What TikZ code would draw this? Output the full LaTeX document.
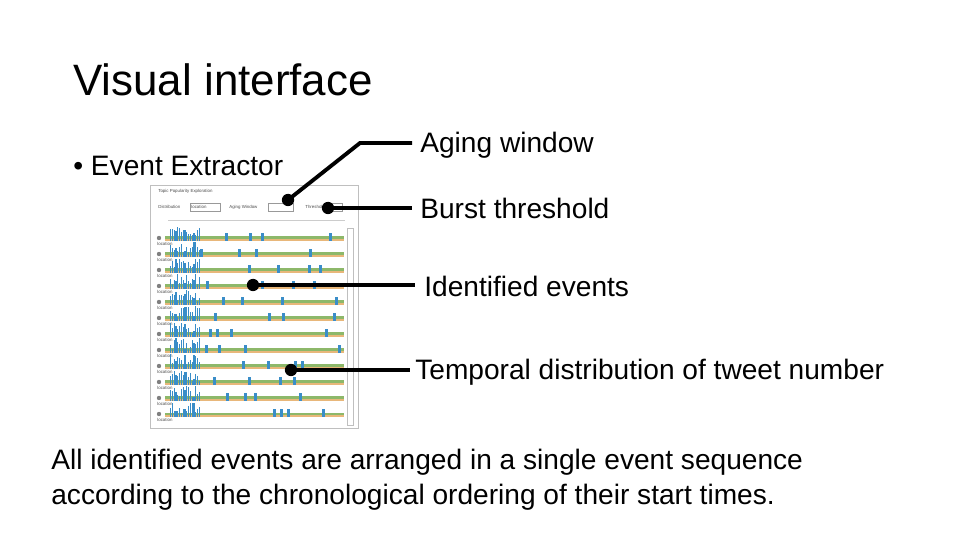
\documentclass[tikz,border=0pt]{standalone}
\usepackage{fontspec}
\setmainfont{Liberation Sans}
\definecolor{barblue}{HTML}{3A8DC8}
\definecolor{bargreen}{HTML}{8DB86A}
\definecolor{barorange}{HTML}{E8B77A}
\begin{document}
\begin{tikzpicture}[x=0.02cm,y=-0.02cm,
  lbl/.style={anchor=west,inner sep=0pt,font=\fontsize{16}{19}\selectfont},
  lead/.style={line width=2.2pt},
  dotb/.style={circle,fill=black,inner sep=0pt,minimum size=7pt},
  tiny/.style={font=\fontsize{2.5}{3}\selectfont,inner sep=0pt,text=black!70}]
\useasboundingbox (0,0) rectangle (960,540);
\node[anchor=west,inner sep=0pt,font=\fontsize{25}{30}\selectfont] (title) at (73,80) {Visual interface};
\node[lbl] (ee) at (73,166) {• Event Extractor};
% screenshot
\draw[black!25,fill=white] (150,185) rectangle (358,428);
\node[tiny,anchor=west] (st) at (158,191) {Topic Popularity Exploration};
\node[tiny,anchor=west] (sd) at (158,207) {Distribution};
\draw[black!40] (190,203) rectangle (220,211);
\node[tiny,anchor=west] (sl) at (191,207) {location};
\node[tiny,anchor=west] (sa) at (229,207) {Aging Window};
\draw[black!40] (268,203) rectangle (293,211);
\node[tiny,anchor=west] (sth) at (305,207) {Threshold};
\draw[black!40] (332,203) rectangle (342,211);
\draw[black!20] (168,220) -- (345,220);
\draw[black!25] (347,228) rectangle (353,425);
\foreach \i in {0,...,11}{
  \pgfmathsetmacro{\yb}{241+16*\i}
  \fill[barorange] (165,\yb-2) rectangle (344,\yb);
  \fill[bargreen] (165,\yb-4.5) rectangle (344,\yb-2);
  \foreach \k in {0,...,16}{
    \pgfmathsetmacro{\h}{4+11*rnd}
    \fill[barblue] ({170+\k*1.8},\yb) rectangle ({171.1+\k*1.8},\yb-\h);
  }
  \foreach \k in {0,...,3}{
    \pgfmathsetmacro{\xx}{200+140*rnd}
    \fill[barblue] (\xx,\yb) rectangle (\xx+3,\yb-8);
  }
  \fill[black!50] (159,\yb-3) circle (2.2);
  \node[tiny,anchor=west] at (157,\yb+3) {location};
}
% leaders
\node[dotb] (d1) at (288,200) {};
\coordinate (k1) at (360,143);
\node[lbl] (aw) at (420,145) {Aging window};
\draw[lead] (d1.center) -- (k1) -- (412,143);
\node[dotb] (d2) at (328,208) {};
\node[lbl] (bt) at (420,208) {Burst threshold};
\draw[lead] (d2.center) -- (412,208);
\node[dotb] (d3) at (253,285) {};
\node[lbl] (ie) at (424,286) {Identified events};
\draw[lead] (d3.center) -- (415,285);
\node[dotb] (d4) at (291,370) {};
\node[lbl] (td) at (415,372) {Temporal distribution of tweet number};
\draw[lead] (d4.center) -- (410,370);
\node[lbl,align=left,anchor=north west,font=\fontsize{16}{20}\selectfont] (foot) at (51,449) {All identified events are arranged in a single event sequence\\according to the chronological ordering of their start times.};
\end{tikzpicture}
\end{document}
